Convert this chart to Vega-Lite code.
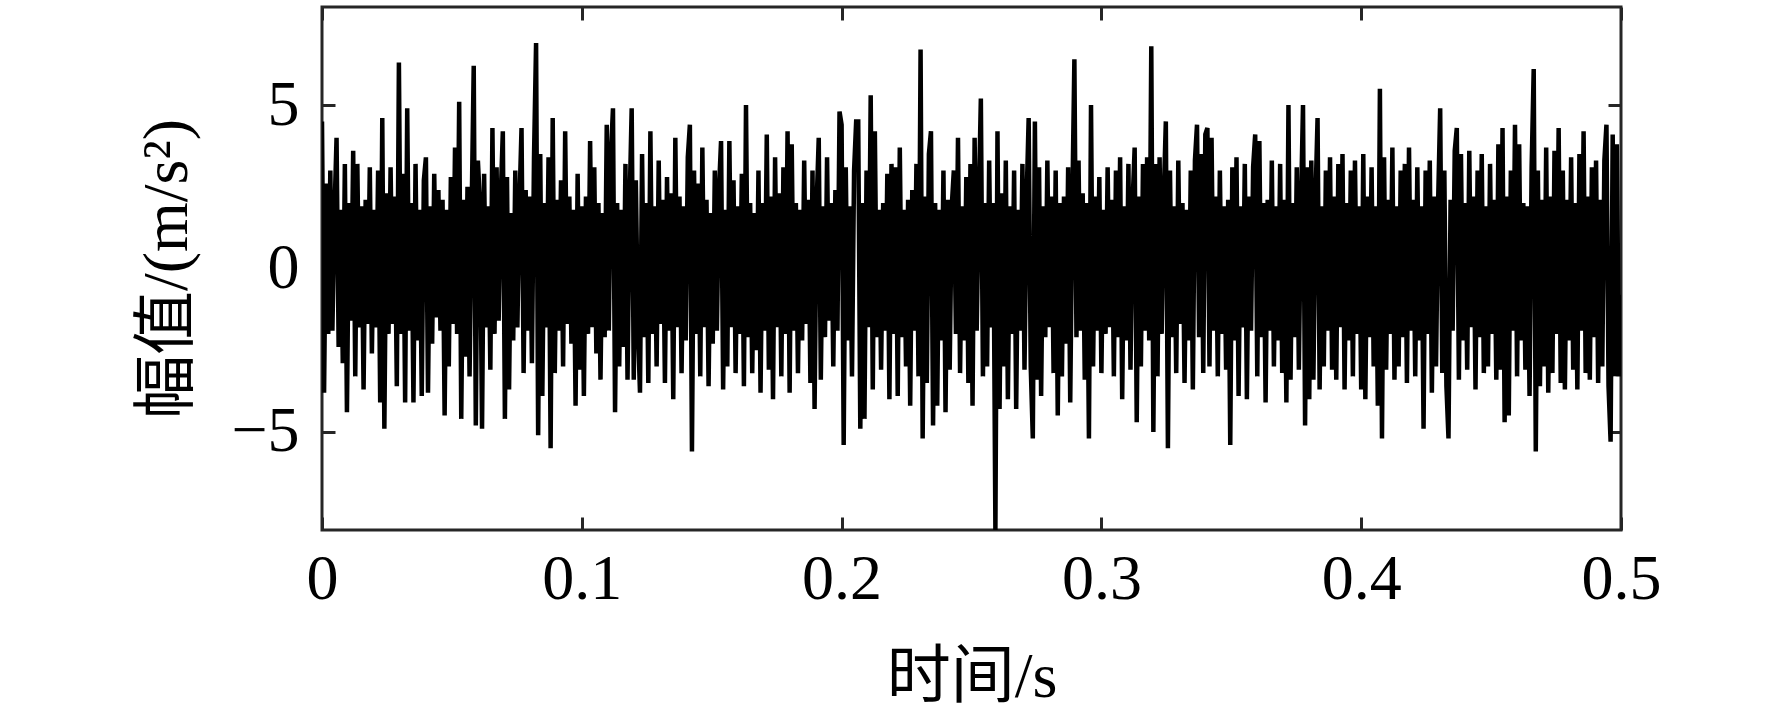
{
  "$schema": "https://vega.github.io/schema/vega-lite/v6.json",
  "autosize": "none",
  "padding": {"left": 322, "top": 7, "right": 151, "bottom": 186},
  "width": 1299,
  "height": 523,
  "background": "#ffffff",
  "config": {
    "view": {"stroke": "#262626", "strokeWidth": 3},
    "axis": {
      "domain": false,
      "grid": false,
      "ticks": true,
      "tickColor": "#262626",
      "tickWidth": 3,
      "tickSize": -13,
      "labelFont": "Liberation Serif",
      "labelFontSize": 64,
      "labelColor": "#000000",
      "labelFlush": false,
      "labelOverlap": false,
      "labelBound": false,
      "titleFont": "Liberation Serif, Noto Sans CJK SC",
      "titleFontSize": 64,
      "titleFontWeight": "normal",
      "titleColor": "#000000"
    }
  },
  "data": {
    "values": [
      {"t":0,"v":4.5},{"t":0.0008,"v":-3.8},{"t":0.0016,"v":2.6},{"t":0.0024,"v":-2.0},{"t":0.0032,"v":3.0},{"t":0.004,"v":-1.9},{"t":0.0048,"v":1.7},{"t":0.0056,"v":4.0},{"t":0.0064,"v":-2.4},{"t":0.0072,"v":1.8},
      {"t":0.008,"v":-2.9},{"t":0.0088,"v":3.2},{"t":0.0096,"v":-4.4},{"t":0.0104,"v":2.0},{"t":0.0112,"v":-1.6},{"t":0.012,"v":3.6},{"t":0.0128,"v":-3.3},{"t":0.0136,"v":3.2},{"t":0.0144,"v":-1.8},{"t":0.0152,"v":1.9},
      {"t":0.016,"v":-3.7},{"t":0.0168,"v":2.1},{"t":0.0176,"v":-1.7},{"t":0.0184,"v":3.1},{"t":0.0192,"v":-2.6},{"t":0.02,"v":1.8},{"t":0.0208,"v":-1.8},{"t":0.0216,"v":3.0},{"t":0.0224,"v":-4.1},{"t":0.0232,"v":4.6},
      {"t":0.024,"v":-4.9},{"t":0.0248,"v":2.3},{"t":0.0256,"v":-2.0},{"t":0.0264,"v":3.1},{"t":0.0272,"v":-1.7},{"t":0.028,"v":2.2},{"t":0.0288,"v":-3.6},{"t":0.0296,"v":6.3},{"t":0.0304,"v":-2.0},{"t":0.0312,"v":2.9},
      {"t":0.032,"v":-4.1},{"t":0.0328,"v":4.9},{"t":0.0336,"v":-1.9},{"t":0.0344,"v":2.0},{"t":0.0352,"v":-4.1},{"t":0.036,"v":3.2},{"t":0.0368,"v":-2.2},{"t":0.0376,"v":1.8},{"t":0.0384,"v":-3.9},{"t":0.0392,"v":2.7},
      {"t":0.04,"v":3.4},{"t":0.0408,"v":-3.8},{"t":0.0416,"v":1.9},{"t":0.0424,"v":-2.3},{"t":0.0432,"v":2.9},{"t":0.044,"v":-1.5},{"t":0.0448,"v":2.4},{"t":0.0456,"v":-1.9},{"t":0.0464,"v":2.1},{"t":0.0472,"v":-4.5},
      {"t":0.048,"v":1.8},{"t":0.0488,"v":-3.0},{"t":0.0496,"v":2.8},{"t":0.0504,"v":-1.7},{"t":0.0512,"v":3.7},{"t":0.052,"v":-2.0},{"t":0.0528,"v":5.1},{"t":0.0536,"v":-4.6},{"t":0.0544,"v":2.1},{"t":0.0552,"v":-2.7},
      {"t":0.056,"v":2.5},{"t":0.0568,"v":-3.3},{"t":0.0576,"v":1.8},{"t":0.0584,"v":6.2},{"t":0.0592,"v":-4.8},{"t":0.06,"v":3.3},{"t":0.0608,"v":2.0},{"t":0.0616,"v":-4.9},{"t":0.0624,"v":2.9},{"t":0.0632,"v":-1.8},
      {"t":0.064,"v":1.9},{"t":0.0648,"v":-3.1},{"t":0.0656,"v":4.3},{"t":0.0664,"v":-2.0},{"t":0.0672,"v":3.1},{"t":0.068,"v":-1.6},{"t":0.0688,"v":2.2},{"t":0.0696,"v":4.2},{"t":0.0704,"v":-4.6},{"t":0.0712,"v":2.8},
      {"t":0.072,"v":-3.7},{"t":0.0728,"v":1.7},{"t":0.0736,"v":-2.2},{"t":0.0744,"v":3.0},{"t":0.0752,"v":-1.8},{"t":0.076,"v":2.0},{"t":0.0768,"v":4.3},{"t":0.0776,"v":-3.2},{"t":0.0784,"v":2.4},{"t":0.0792,"v":-1.9},
      {"t":0.08,"v":2.2},{"t":0.0808,"v":-2.9},{"t":0.0816,"v":3.4},{"t":0.0824,"v":6.9},{"t":0.0832,"v":-5.1},{"t":0.084,"v":3.5},{"t":0.0848,"v":-3.9},{"t":0.0856,"v":2.0},{"t":0.0864,"v":-1.8},{"t":0.0872,"v":3.4},
      {"t":0.088,"v":-5.5},{"t":0.0888,"v":4.6},{"t":0.0896,"v":-3.2},{"t":0.0904,"v":2.1},{"t":0.0912,"v":-1.9},{"t":0.092,"v":2.7},{"t":0.0928,"v":-3.0},{"t":0.0936,"v":4.2},{"t":0.0944,"v":-1.7},{"t":0.0952,"v":2.2},
      {"t":0.096,"v":-2.3},{"t":0.0968,"v":1.8},{"t":0.0976,"v":-4.2},{"t":0.0984,"v":2.9},{"t":0.0992,"v":-3.1},{"t":0.1,"v":1.9},{"t":0.1008,"v":-3.9},{"t":0.1016,"v":2.2},{"t":0.1024,"v":-2.0},{"t":0.1032,"v":3.9},
      {"t":0.104,"v":-1.8},{"t":0.1048,"v":3.1},{"t":0.1056,"v":-2.6},{"t":0.1064,"v":2.0},{"t":0.1072,"v":-3.4},{"t":0.108,"v":1.7},{"t":0.1088,"v":-2.1},{"t":0.1096,"v":4.4},{"t":0.1104,"v":-1.9},{"t":0.1112,"v":3.5},
      {"t":0.112,"v":4.9},{"t":0.1128,"v":-4.4},{"t":0.1136,"v":2.0},{"t":0.1144,"v":-3.0},{"t":0.1152,"v":1.8},{"t":0.116,"v":-2.4},{"t":0.1168,"v":3.2},{"t":0.1176,"v":-3.4},{"t":0.1184,"v":2.0},{"t":0.1192,"v":4.9},
      {"t":0.12,"v":-3.4},{"t":0.1208,"v":2.7},{"t":0.1216,"v":-1.8},{"t":0.1224,"v":-3.8},{"t":0.1232,"v":3.5},{"t":0.124,"v":-2.1},{"t":0.1248,"v":2.0},{"t":0.1256,"v":-3.5},{"t":0.1264,"v":4.2},{"t":0.1272,"v":-2.0},
      {"t":0.128,"v":1.9},{"t":0.1288,"v":-3.0},{"t":0.1296,"v":3.3},{"t":0.1304,"v":-1.7},{"t":0.1312,"v":2.1},{"t":0.132,"v":-3.5},{"t":0.1328,"v":2.8},{"t":0.1336,"v":-1.9},{"t":0.1344,"v":2.3},{"t":0.1352,"v":-4.0},
      {"t":0.136,"v":4.0},{"t":0.1368,"v":-1.8},{"t":0.1376,"v":2.2},{"t":0.1384,"v":-3.2},{"t":0.1392,"v":1.9},{"t":0.14,"v":-2.2},{"t":0.1408,"v":3.4},{"t":0.1416,"v":4.4},{"t":0.1424,"v":-5.6},{"t":0.1432,"v":3.0},
      {"t":0.144,"v":-2.0},{"t":0.1448,"v":2.6},{"t":0.1456,"v":-3.3},{"t":0.1464,"v":3.7},{"t":0.1472,"v":-1.8},{"t":0.148,"v":2.1},{"t":0.1488,"v":-3.6},{"t":0.1496,"v":1.7},{"t":0.1504,"v":-2.3},{"t":0.1512,"v":3.0},
      {"t":0.152,"v":-1.9},{"t":0.1528,"v":2.4},{"t":0.1536,"v":3.9},{"t":0.1544,"v":-3.7},{"t":0.1552,"v":1.8},{"t":0.156,"v":-3.0},{"t":0.1568,"v":3.9},{"t":0.1576,"v":-1.8},{"t":0.1584,"v":2.7},{"t":0.1592,"v":-3.2},
      {"t":0.16,"v":1.9},{"t":0.1608,"v":-2.0},{"t":0.1616,"v":2.9},{"t":0.1624,"v":-3.6},{"t":0.1632,"v":5.0},{"t":0.164,"v":-2.1},{"t":0.1648,"v":2.0},{"t":0.1656,"v":-3.2},{"t":0.1664,"v":1.7},{"t":0.1672,"v":-2.5},
      {"t":0.168,"v":3.0},{"t":0.1688,"v":-3.8},{"t":0.1696,"v":2.0},{"t":0.1704,"v":-1.9},{"t":0.1712,"v":4.1},{"t":0.172,"v":-3.1},{"t":0.1728,"v":2.2},{"t":0.1736,"v":-4.0},{"t":0.1744,"v":3.4},{"t":0.1752,"v":-1.8},
      {"t":0.176,"v":2.3},{"t":0.1768,"v":-3.3},{"t":0.1776,"v":3.1},{"t":0.1784,"v":-2.0},{"t":0.1792,"v":4.2},{"t":0.18,"v":-3.8},{"t":0.1808,"v":3.8},{"t":0.1816,"v":-1.9},{"t":0.1824,"v":2.0},{"t":0.1832,"v":-3.2},
      {"t":0.184,"v":1.8},{"t":0.1848,"v":-2.2},{"t":0.1856,"v":3.3},{"t":0.1864,"v":-1.7},{"t":0.1872,"v":2.1},{"t":0.188,"v":-3.5},{"t":0.1888,"v":3.0},{"t":0.1896,"v":-4.3},{"t":0.1904,"v":2.0},{"t":0.1912,"v":4.0},
      {"t":0.192,"v":-3.4},{"t":0.1928,"v":1.9},{"t":0.1936,"v":-2.1},{"t":0.1944,"v":3.4},{"t":0.1952,"v":-1.6},{"t":0.196,"v":2.0},{"t":0.1968,"v":-3.0},{"t":0.1976,"v":2.4},{"t":0.1984,"v":-1.9},{"t":0.1992,"v":4.8},
      {"t":0.2,"v":4.4},{"t":0.2008,"v":-5.4},{"t":0.2016,"v":3.1},{"t":0.2024,"v":-2.2},{"t":0.2032,"v":1.9},{"t":0.204,"v":-3.3},{"t":0.2048,"v":3.0},{"t":0.2056,"v":4.5},{"t":0.2064,"v":4.5},{"t":0.2072,"v":-4.9},
      {"t":0.208,"v":2.0},{"t":0.2088,"v":-4.6},{"t":0.2096,"v":3.0},{"t":0.2104,"v":-1.8},{"t":0.2112,"v":5.3},{"t":0.212,"v":-3.7},{"t":0.2128,"v":4.2},{"t":0.2136,"v":-2.1},{"t":0.2144,"v":1.8},{"t":0.2152,"v":-3.1},
      {"t":0.216,"v":2.0},{"t":0.2168,"v":-1.9},{"t":0.2176,"v":2.9},{"t":0.2184,"v":-4.0},{"t":0.2192,"v":3.2},{"t":0.22,"v":-2.0},{"t":0.2208,"v":3.1},{"t":0.2216,"v":-3.9},{"t":0.2224,"v":3.7},{"t":0.2232,"v":-2.1},
      {"t":0.224,"v":1.8},{"t":0.2248,"v":-3.0},{"t":0.2256,"v":2.1},{"t":0.2264,"v":-4.2},{"t":0.2272,"v":2.4},{"t":0.228,"v":-1.9},{"t":0.2288,"v":3.2},{"t":0.2296,"v":-3.3},{"t":0.2304,"v":6.7},{"t":0.2312,"v":-5.2},
      {"t":0.232,"v":2.2},{"t":0.2328,"v":-3.5},{"t":0.2336,"v":3.5},{"t":0.2344,"v":4.2},{"t":0.2352,"v":-4.8},{"t":0.236,"v":2.0},{"t":0.2368,"v":-4.2},{"t":0.2376,"v":1.8},{"t":0.2384,"v":-2.2},{"t":0.2392,"v":3.0},
      {"t":0.24,"v":-4.4},{"t":0.2408,"v":2.1},{"t":0.2416,"v":-3.1},{"t":0.2424,"v":1.9},{"t":0.2432,"v":3.0},{"t":0.244,"v":-2.0},{"t":0.2448,"v":4.0},{"t":0.2456,"v":-3.2},{"t":0.2464,"v":1.9},{"t":0.2472,"v":-2.2},
      {"t":0.248,"v":2.8},{"t":0.2488,"v":-3.5},{"t":0.2496,"v":3.2},{"t":0.2504,"v":-4.2},{"t":0.2512,"v":4.0},{"t":0.252,"v":-1.9},{"t":0.2528,"v":2.1},{"t":0.2536,"v":5.2},{"t":0.2544,"v":-3.3},{"t":0.2552,"v":2.0},
      {"t":0.256,"v":-3.0},{"t":0.2568,"v":3.3},{"t":0.2576,"v":-1.8},{"t":0.2584,"v":2.0},{"t":0.2592,"v":-8.0},{"t":0.26,"v":4.2},{"t":0.2608,"v":-4.3},{"t":0.2616,"v":2.3},{"t":0.2624,"v":-3.0},{"t":0.2632,"v":3.3},
      {"t":0.264,"v":-4.0},{"t":0.2648,"v":1.9},{"t":0.2656,"v":-2.0},{"t":0.2664,"v":3.0},{"t":0.2672,"v":-4.3},{"t":0.268,"v":1.8},{"t":0.2688,"v":-1.9},{"t":0.2696,"v":3.2},{"t":0.2704,"v":-3.1},{"t":0.2712,"v":2.1},
      {"t":0.272,"v":4.6},{"t":0.2728,"v":-3.0},{"t":0.2736,"v":-5.2},{"t":0.2744,"v":4.5},{"t":0.2752,"v":-3.4},{"t":0.276,"v":3.1},{"t":0.2768,"v":-3.9},{"t":0.2776,"v":1.9},{"t":0.2784,"v":-2.1},{"t":0.2792,"v":3.3},
      {"t":0.28,"v":-1.8},{"t":0.2808,"v":2.2},{"t":0.2816,"v":-3.2},{"t":0.2824,"v":3.0},{"t":0.2832,"v":-4.5},{"t":0.284,"v":2.0},{"t":0.2848,"v":-3.3},{"t":0.2856,"v":2.2},{"t":0.2864,"v":-2.3},{"t":0.2872,"v":3.1},
      {"t":0.288,"v":-4.1},{"t":0.2888,"v":2.0},{"t":0.2896,"v":6.4},{"t":0.2904,"v":-2.1},{"t":0.2912,"v":3.3},{"t":0.292,"v":-1.9},{"t":0.2928,"v":2.3},{"t":0.2936,"v":-3.4},{"t":0.2944,"v":2.0},{"t":0.2952,"v":-5.2},
      {"t":0.296,"v":5.0},{"t":0.2968,"v":-3.0},{"t":0.2976,"v":2.2},{"t":0.2984,"v":-1.9},{"t":0.2992,"v":2.8},{"t":0.3,"v":-3.2},{"t":0.3008,"v":1.8},{"t":0.3016,"v":-2.0},{"t":0.3024,"v":3.1},{"t":0.3032,"v":-1.8},
      {"t":0.304,"v":2.1},{"t":0.3048,"v":-3.3},{"t":0.3056,"v":3.0},{"t":0.3064,"v":-2.1},{"t":0.3072,"v":3.4},{"t":0.308,"v":-4.0},{"t":0.3088,"v":1.9},{"t":0.3096,"v":-2.2},{"t":0.3104,"v":3.2},{"t":0.3112,"v":-3.1},
      {"t":0.312,"v":2.0},{"t":0.3128,"v":3.7},{"t":0.3136,"v":-4.7},{"t":0.3144,"v":2.2},{"t":0.3152,"v":-3.0},{"t":0.316,"v":3.2},{"t":0.3168,"v":-1.9},{"t":0.3176,"v":3.4},{"t":0.3184,"v":-2.2},{"t":0.3192,"v":6.8},
      {"t":0.32,"v":-5.0},{"t":0.3208,"v":3.2},{"t":0.3216,"v":-3.3},{"t":0.3224,"v":3.4},{"t":0.3232,"v":-2.0},{"t":0.324,"v":2.2},{"t":0.3248,"v":4.5},{"t":0.3256,"v":-5.5},{"t":0.3264,"v":3.0},{"t":0.3272,"v":-2.1},
      {"t":0.328,"v":1.9},{"t":0.3288,"v":-3.2},{"t":0.3296,"v":3.3},{"t":0.3304,"v":-1.7},{"t":0.3312,"v":2.0},{"t":0.332,"v":-3.5},{"t":0.3328,"v":1.8},{"t":0.3336,"v":-2.2},{"t":0.3344,"v":3.0},{"t":0.3352,"v":-3.7},
      {"t":0.336,"v":3.3},{"t":0.3368,"v":4.4},{"t":0.3376,"v":-2.1},{"t":0.3384,"v":3.5},{"t":0.3392,"v":-3.2},{"t":0.34,"v":4.1},{"t":0.3408,"v":4.3},{"t":0.3416,"v":-3.0},{"t":0.3424,"v":4.0},{"t":0.3432,"v":-1.9},
      {"t":0.344,"v":2.2},{"t":0.3448,"v":-3.3},{"t":0.3456,"v":3.0},{"t":0.3464,"v":-2.0},{"t":0.3472,"v":1.9},{"t":0.348,"v":-3.1},{"t":0.3488,"v":2.1},{"t":0.3496,"v":-5.4},{"t":0.3504,"v":3.1},{"t":0.3512,"v":-2.2},
      {"t":0.352,"v":3.4},{"t":0.3528,"v":-3.9},{"t":0.3536,"v":1.9},{"t":0.3544,"v":-1.8},{"t":0.3552,"v":3.2},{"t":0.356,"v":-4.0},{"t":0.3568,"v":2.2},{"t":0.3576,"v":-1.9},{"t":0.3584,"v":3.1},{"t":0.3592,"v":4.1},
      {"t":0.36,"v":-3.3},{"t":0.3608,"v":3.9},{"t":0.3616,"v":-2.1},{"t":0.3624,"v":2.0},{"t":0.3632,"v":-4.1},{"t":0.364,"v":2.1},{"t":0.3648,"v":-1.9},{"t":0.3656,"v":3.3},{"t":0.3664,"v":-3.0},{"t":0.3672,"v":1.9},
      {"t":0.368,"v":-2.2},{"t":0.3688,"v":3.2},{"t":0.3696,"v":-3.2},{"t":0.3704,"v":2.1},{"t":0.3712,"v":-4.1},{"t":0.372,"v":5.0},{"t":0.3728,"v":-3.4},{"t":0.3736,"v":2.0},{"t":0.3744,"v":-2.1},{"t":0.3752,"v":3.1},
      {"t":0.376,"v":-3.1},{"t":0.3768,"v":1.9},{"t":0.3776,"v":5.0},{"t":0.3784,"v":-4.8},{"t":0.3792,"v":3.1},{"t":0.38,"v":-4.0},{"t":0.3808,"v":3.3},{"t":0.3816,"v":-3.4},{"t":0.3824,"v":2.1},{"t":0.3832,"v":4.6},
      {"t":0.384,"v":-3.7},{"t":0.3848,"v":1.9},{"t":0.3856,"v":-3.0},{"t":0.3864,"v":3.0},{"t":0.3872,"v":-1.9},{"t":0.388,"v":3.4},{"t":0.3888,"v":-3.1},{"t":0.3896,"v":2.2},{"t":0.3904,"v":-3.4},{"t":0.3912,"v":3.2},
      {"t":0.392,"v":-1.8},{"t":0.3928,"v":3.5},{"t":0.3936,"v":-3.7},{"t":0.3944,"v":2.0},{"t":0.3952,"v":-2.2},{"t":0.396,"v":3.0},{"t":0.3968,"v":-3.3},{"t":0.3976,"v":3.3},{"t":0.3984,"v":-2.0},{"t":0.3992,"v":1.9},
      {"t":0.4,"v":-3.7},{"t":0.4008,"v":3.5},{"t":0.4016,"v":-4.0},{"t":0.4024,"v":2.2},{"t":0.4032,"v":-2.1},{"t":0.404,"v":3.1},{"t":0.4048,"v":-3.0},{"t":0.4056,"v":1.9},{"t":0.4064,"v":-4.2},{"t":0.4072,"v":5.5},
      {"t":0.408,"v":-5.2},{"t":0.4088,"v":3.4},{"t":0.4096,"v":-3.1},{"t":0.4104,"v":2.1},{"t":0.4112,"v":-2.0},{"t":0.412,"v":3.7},{"t":0.4128,"v":-3.4},{"t":0.4136,"v":1.9},{"t":0.4144,"v":-3.0},{"t":0.4152,"v":3.0},
      {"t":0.416,"v":-2.1},{"t":0.4168,"v":3.2},{"t":0.4176,"v":-3.5},{"t":0.4184,"v":3.7},{"t":0.4192,"v":-1.9},{"t":0.42,"v":2.1},{"t":0.4208,"v":-3.3},{"t":0.4216,"v":3.1},{"t":0.4224,"v":-2.2},{"t":0.4232,"v":1.9},
      {"t":0.424,"v":-4.9},{"t":0.4248,"v":3.0},{"t":0.4256,"v":-2.0},{"t":0.4264,"v":3.3},{"t":0.4272,"v":-3.8},{"t":0.428,"v":2.2},{"t":0.4288,"v":-3.0},{"t":0.4296,"v":2.0},{"t":0.4304,"v":4.9},{"t":0.4312,"v":-3.2},
      {"t":0.432,"v":3.0},{"t":0.4328,"v":-3.6},{"t":0.4336,"v":-5.2},{"t":0.4344,"v":2.1},{"t":0.4352,"v":-1.9},{"t":0.436,"v":3.6},{"t":0.4368,"v":4.3},{"t":0.4376,"v":-3.4},{"t":0.4384,"v":3.5},{"t":0.4392,"v":-2.2},
      {"t":0.44,"v":2.0},{"t":0.4408,"v":-3.1},{"t":0.4416,"v":3.6},{"t":0.4424,"v":-1.8},{"t":0.4432,"v":2.2},{"t":0.444,"v":-3.7},{"t":0.4448,"v":3.0},{"t":0.4456,"v":-2.1},{"t":0.4464,"v":3.5},{"t":0.4472,"v":-3.2},
      {"t":0.448,"v":1.9},{"t":0.4488,"v":-3.0},{"t":0.4496,"v":3.2},{"t":0.4504,"v":-2.0},{"t":0.4512,"v":2.1},{"t":0.452,"v":-3.4},{"t":0.4528,"v":3.8},{"t":0.4536,"v":-3.1},{"t":0.4544,"v":4.3},{"t":0.4552,"v":-4.7},
      {"t":0.456,"v":2.2},{"t":0.4568,"v":-4.5},{"t":0.4576,"v":3.0},{"t":0.4584,"v":-1.9},{"t":0.4592,"v":4.4},{"t":0.46,"v":-3.3},{"t":0.4608,"v":3.8},{"t":0.4616,"v":-2.2},{"t":0.4624,"v":2.0},{"t":0.4632,"v":-3.1},
      {"t":0.464,"v":1.9},{"t":0.4648,"v":-3.9},{"t":0.4656,"v":3.1},{"t":0.4664,"v":6.1},{"t":0.4672,"v":-5.6},{"t":0.468,"v":3.0},{"t":0.4688,"v":-3.6},{"t":0.4696,"v":2.1},{"t":0.4704,"v":-3.0},{"t":0.4712,"v":3.7},
      {"t":0.472,"v":-3.8},{"t":0.4728,"v":2.2},{"t":0.4736,"v":-3.2},{"t":0.4744,"v":3.6},{"t":0.4752,"v":-2.0},{"t":0.476,"v":4.3},{"t":0.4768,"v":-3.5},{"t":0.4776,"v":3.0},{"t":0.4784,"v":-3.7},{"t":0.4792,"v":2.1},
      {"t":0.48,"v":-2.2},{"t":0.4808,"v":3.4},{"t":0.4816,"v":-3.1},{"t":0.4824,"v":2.0},{"t":0.4832,"v":-3.7},{"t":0.484,"v":3.5},{"t":0.4848,"v":-1.9},{"t":0.4856,"v":4.2},{"t":0.4864,"v":-3.2},{"t":0.4872,"v":2.2},
      {"t":0.488,"v":-3.4},{"t":0.4888,"v":3.1},{"t":0.4896,"v":-2.1},{"t":0.4904,"v":3.3},{"t":0.4912,"v":-3.5},{"t":0.492,"v":2.1},{"t":0.4928,"v":-3.0},{"t":0.4936,"v":3.3},{"t":0.4944,"v":4.4},{"t":0.4952,"v":-3.6},
      {"t":0.496,"v":-5.3},{"t":0.4968,"v":4.1},{"t":0.4976,"v":-3.3},{"t":0.4984,"v":3.8},{"t":0.4992,"v":-3.3},{"t":0.5,"v":-0.8}
    ]
  },
  "layer": [
    {
      "mark": {"type": "line", "color": "#000000", "strokeWidth": 4.5, "clip": true, "strokeJoin": "miter"},
      "encoding": {
        "x": {
          "field": "t",
          "type": "quantitative",
          "scale": {"domain": [0, 0.5], "nice": false, "zero": false},
          "axis": {
            "orient": "bottom",
            "values": [0, 0.1, 0.2, 0.3, 0.4, 0.5],
            "format": "~g",
            "labelPadding": 30,
            "title": "时间/s",
            "titleX": 649.5,
            "titleY": 166,
            "titleAlign": "center",
            "titleBaseline": "alphabetic"
          }
        },
        "y": {
          "field": "v",
          "type": "quantitative",
          "scale": {"domain": [-8, 8], "nice": false, "zero": false},
          "axis": {
            "orient": "left",
            "values": [-5, 0, 5],
            "format": "~g",
            "labelPadding": 36,
            "title": "幅值/(m/s²)",
            "titleX": -136,
            "titleY": 261.5,
            "titleAngle": -90,
            "titleAlign": "center",
            "titleBaseline": "alphabetic"
          }
        }
      }
    },
    {
      "transform": [{"filter": "datum.t === 0"}],
      "mark": {"type": "point", "opacity": 0},
      "encoding": {
        "x": {
          "field": "t",
          "type": "quantitative",
          "axis": {"orient": "top", "values": [0, 0.1, 0.2, 0.3, 0.4, 0.5], "labels": false, "title": null}
        },
        "y": {
          "field": "v",
          "type": "quantitative",
          "axis": {"orient": "right", "values": [-5, 0, 5], "labels": false, "title": null}
        }
      }
    }
  ],
  "resolve": {"axis": {"x": "independent", "y": "independent"}}
}
